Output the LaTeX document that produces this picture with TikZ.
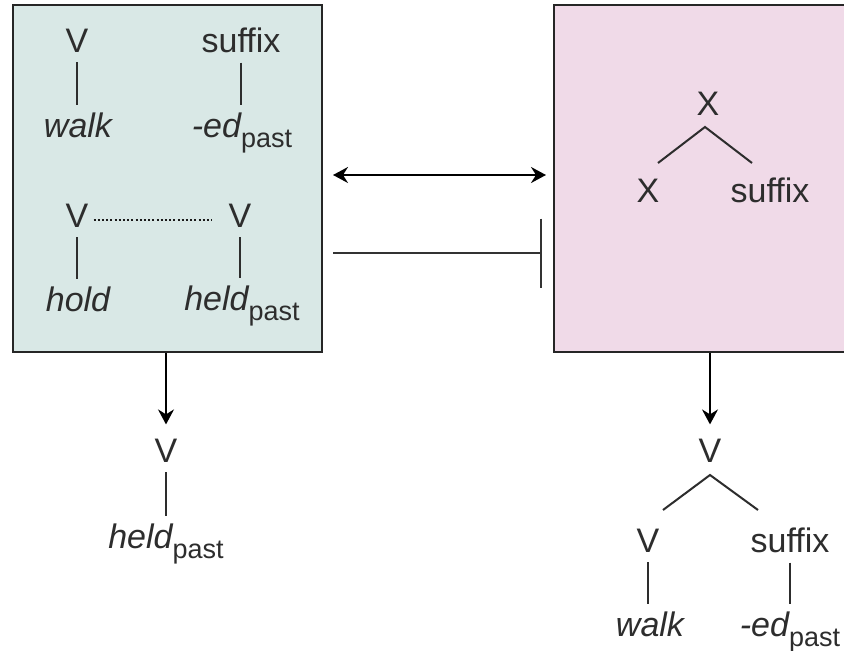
\documentclass[tikz,border=0pt]{standalone}
\usepackage{fontspec}
\setmainfont{Liberation Sans}
\usetikzlibrary{arrows.meta}
\definecolor{leftfill}{RGB}{217,232,230}
\definecolor{rightfill}{RGB}{240,218,232}
\definecolor{ink}{RGB}{45,45,45}
\newcommand\pastsub{\raisebox{-10pt}{\fontsize{27}{30}\selectfont past}}
\begin{document}
\begin{tikzpicture}[x=1pt,y=-1pt,
  lbl/.style={inner sep=0pt, anchor=base, text=ink, font=\fontsize{34}{40}\selectfont},
  box/.style={draw=black!85, line width=2pt, minimum width=309pt, minimum height=347pt, inner sep=0pt},
  branch/.style={draw=ink, line width=2pt},
  vline/.style={branch, shorten <=10pt, shorten >=7pt},
  tipstyle/.style={line width=2pt, draw=black},
  dotline/.style={draw=black!90, line width=1.8pt, dash pattern=on 2pt off 2.2pt}]
\useasboundingbox (0,0) rectangle (844,651);
\clip (0,0) rectangle (844,651);
\fill[white] (0,0) rectangle (844,651);

% boxes
\node[box, fill=leftfill] (L) at (167.5,178.5) {};
\node[box, fill=rightfill] (R) at (708.5,178.5) {};

% left box contents
\node[lbl] (lv1) at (77,52) {V};
\node[lbl] (lw1) at (78,137) {\itshape walk};
\node[lbl] (ls1) at (241,52) {suffix};
\node[lbl] (le1) at (242,137) {{\itshape -ed}\pastsub};
\node[lbl] (lv2) at (77,227) {V};
\node[lbl] (lv3) at (240,227) {V};
\node[lbl] (lh1) at (78,311) {\itshape hold};
\node[lbl] (lh2) at (242,310) {{\itshape held}\pastsub};
\draw[vline] (lv1.south) -- (lv1.south |- lw1.north);
\draw[vline] (ls1.south) -- (ls1.south |- le1.north);
\draw[vline] (lv2.south) -- (lv2.south |- lh1.north);
\draw[vline] (lv3.south) -- (lv3.south |- lh2.north);
\draw[dotline, shorten <=5pt, shorten >=16pt] ([yshift=-5pt]lv2.east) -- ([yshift=-5pt]lv3.west);

% right box contents
\node[lbl] (rx1) at (708,115) {X};
\node[lbl] (rx2) at (648,202) {X};
\node[lbl] (rs1) at (770,202) {suffix};
\coordinate (rapex) at (705,127);
\coordinate (rl) at (658,163);
\coordinate (rr) at (752,163);
\draw[branch] (rl) -- (rapex) -- (rr);

% arrows between boxes
\draw[tipstyle, {Stealth[length=15pt,width=16pt,inset=5pt]}-{Stealth[length=15pt,width=16pt,inset=5pt]}]
  ([xshift=10pt,yshift=3.5pt]L.east) -- ([xshift=-7pt,yshift=3.5pt]R.west);
\draw[tipstyle, -{Bar[width=69pt,line width=2pt]}, draw=black!80]
  ([xshift=10pt,yshift=-74.5pt]L.east) -- ([xshift=-11pt,yshift=-74.5pt]R.west);

% bottom left
\node[lbl] (bv1) at (166,462) {V};
\node[lbl] (bh1) at (166,548) {{\itshape held}\pastsub};
\draw[vline] (bv1.south) -- (bv1.south |- bh1.north);
\draw[tipstyle, -{Stealth[length=15pt,width=16pt,inset=5pt]}, shorten >=14pt] (L.south -| bv1) -- (bv1.north);

% bottom right
\node[lbl] (bv2) at (710,462) {V};
\node[lbl] (bv3) at (648,552) {V};
\node[lbl] (bs2) at (790,552) {suffix};
\node[lbl] (bw2) at (650,636) {\itshape walk};
\node[lbl] (be2) at (790,636) {{\itshape -ed}\pastsub};
\coordinate (bapex) at (710,475);
\coordinate (bl) at (663,510);
\coordinate (br) at (758,510);
\draw[branch] (bl) -- (bapex) -- (br);
\draw[vline] (bv3.south) -- (bv3.south |- bw2.north);
\draw[vline] (bs2.south) -- (bs2.south |- be2.north);
\draw[tipstyle, -{Stealth[length=15pt,width=16pt,inset=5pt]}, shorten >=14pt] (R.south -| bv2) -- (bv2.north);
\end{tikzpicture}
\end{document}
